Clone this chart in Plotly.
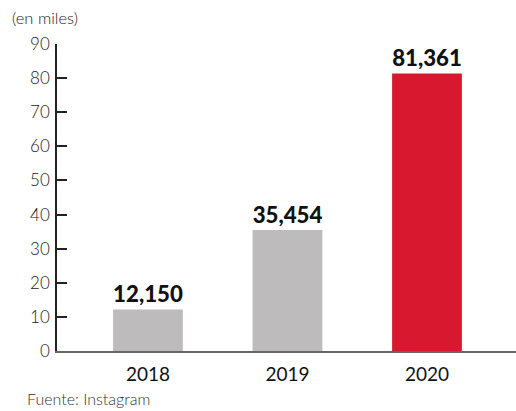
import plotly.graph_objects as go

years = ["2018", "2019", "2020"]
values = [12.150, 35.454, 81.361]
labels = ["12,150", "35,454", "81,361"]
colors = ["#BDBBBB", "#BDBBBB", "#D7182F"]
yticks = [0, 10, 20, 30, 40, 50, 60, 70, 80, 90]

L, R, T, B, W, H = 57, 0, 44, 60, 516, 411

fig = go.Figure(go.Bar(
    x=[0, 1, 2], y=values, marker=dict(color=colors, line=dict(width=0)),
    text=labels, textposition="outside", cliponaxis=False,
    textfont=dict(family="Lato", size=25, color="#111111", weight=900),
    width=0.5,
))

fig.update_layout(
    width=W, height=H,
    margin=dict(l=L, r=R, t=T, b=B),
    plot_bgcolor="white", paper_bgcolor="white",
    showlegend=False,
    font=dict(family="Lato", color="#333333"),
    xaxis=dict(range=[-0.652, 2.638], tickvals=[0, 1, 2], ticktext=years,
               showgrid=False, zeroline=False, showline=True, linecolor="#666666", linewidth=2,
               ticks="", ticklabelstandoff=5,
               tickfont=dict(family="Lato", size=19, color="#111111")),
    yaxis=dict(range=[0, 90], tickvals=yticks, showgrid=False, zeroline=False,
               showline=True, linecolor="#222222", linewidth=1.5,
               ticks="inside", ticklen=10, tickcolor="#222222", tickwidth=1.5,
               ticklabelstandoff=2,
               tickfont=dict(family="Lato", size=17, color="#222222", weight=300)),
)

def px_to_paper(x, y):
    return (x - L) / (W - L - R), (H - B - y) / (H - B - T)

for text, xp, yp, size, col in [("(en miles)", 10, 18, 16.5, "#222222"),
                                ("Fuente: Instagram", 25, 398, 16, "#333333")]:
    px_, py_ = px_to_paper(xp, yp)
    fig.add_annotation(text=text, x=px_, y=py_, xref="paper", yref="paper", showarrow=False,
                       xanchor="left", yanchor="middle",
                       font=dict(family="Lato", size=size, color=col, weight=300))

fig.write_html("out.html", config={"displayModeBar": False},
               post_script="document.body.style.margin='0';document.body.style.padding='0';")
